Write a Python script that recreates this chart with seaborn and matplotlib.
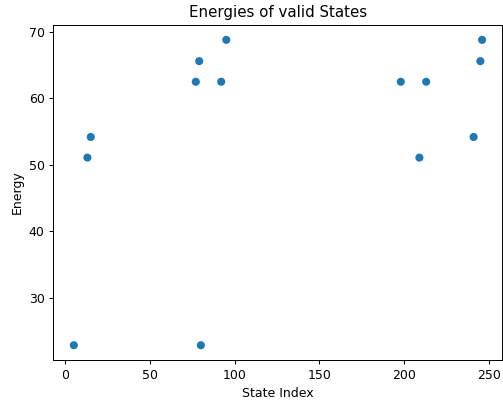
import matplotlib
matplotlib.use("Agg")
import matplotlib.pyplot as plt
import seaborn as sns
import pandas as pd

state_index = [5, 13, 15, 77, 79, 80, 92, 95, 198, 209, 213, 241, 245, 246]
energy = [22.9, 51.1, 54.2, 62.5, 65.6, 22.9, 62.5, 68.8, 62.5, 51.1, 62.5, 54.2, 65.6, 68.8]

df = pd.DataFrame({"State Index": state_index, "Energy": energy})

fig = plt.figure(figsize=(504 / 90, 403 / 90), dpi=90)
ax = fig.add_axes([0.106, 0.1055, 0.891, 0.8335])
sns.scatterplot(data=df, x="State Index", y="Energy", ax=ax,
                color="#1f77b4", s=42, edgecolor="none", linewidth=0)
ax.set_title("Energies of valid States")
ax.set_xlabel("State Index")
ax.set_ylabel("Energy")
fig.savefig("out.png", dpi=90)
